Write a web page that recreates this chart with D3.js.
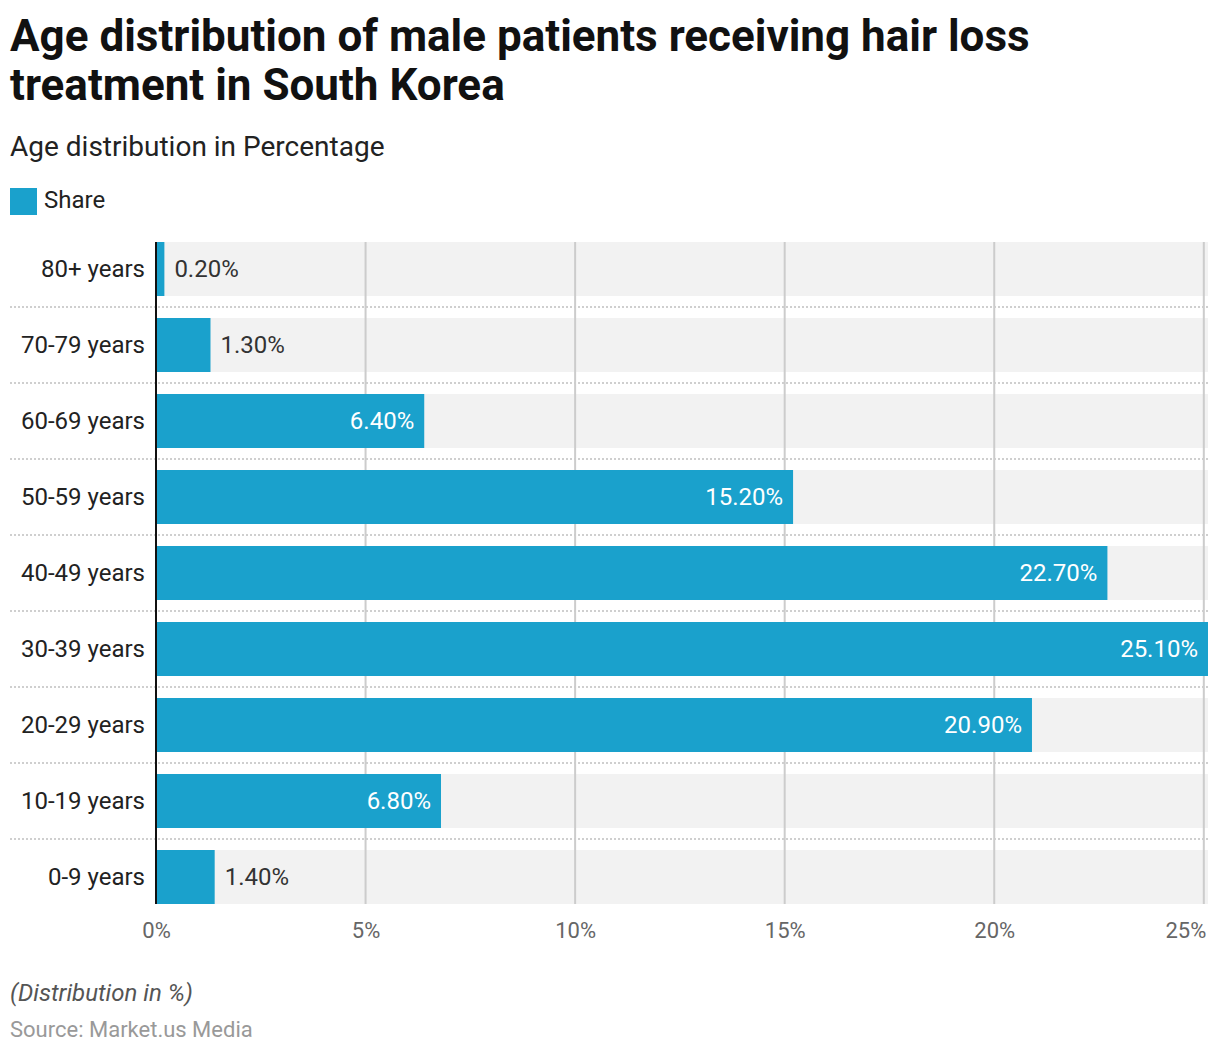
<!DOCTYPE html>
<html><head><meta charset="utf-8">
<script src="https://cdn.jsdelivr.net/npm/d3@7"></script>
<style>body{margin:0;background:#fff;font-family:Roboto,"Noto Sans",sans-serif;}</style>
</head><body><svg id="c" width="1220" height="1056"></svg>
<script>
const categories = ["80+ years","70-79 years","60-69 years","50-59 years","40-49 years","30-39 years","20-29 years","10-19 years","0-9 years"];
const shares = [0.2,1.3,6.4,15.2,22.7,25.1,20.9,6.8,1.4];
const tickValues = [0,5,10,15,20,25];
const tickLabels = ["0%","5%","10%","15%","20%","25%"];
const seriesName = "Share";

(function(){
const svg = d3.select("#c");
const color = "#1aa1cc";
const x = d3.scaleLinear().domain([0,25.1]).range([156,1208]);
const y = d3.scaleBand().domain(categories).range([231,915]).paddingInner(22/76).paddingOuter(11/76);

svg.append("text").attr("x",10).attr("y",51).attr("font-size",44).attr("font-weight",700).attr("fill","#111").text("Age distribution of male patients receiving hair loss");
svg.append("text").attr("x",10).attr("y",100).attr("font-size",44).attr("font-weight",700).attr("fill","#111").text("treatment in South Korea");
svg.append("text").attr("x",10).attr("y",156).attr("font-size",28).attr("fill","#222").text("Age distribution in Percentage");
svg.append("rect").attr("x",10).attr("y",188).attr("width",27).attr("height",27).attr("fill",color);
svg.append("text").attr("x",44).attr("y",208).attr("font-size",24).attr("fill","#222").text(seriesName);

const yTop = y(categories[0]), yBottom = y(categories[categories.length-1]) + y.bandwidth();
svg.append("g").selectAll("rect").data(categories).join("rect")
  .attr("x",x(0)).attr("y",d=>y(d)).attr("width",x(25.1)-x(0)).attr("height",y.bandwidth()).attr("fill","#f2f2f2");
svg.append("g").selectAll("line").data(categories.slice(1)).join("line")
  .attr("x1",10).attr("x2",1208).attr("y1",d=>y(d)-11).attr("y2",d=>y(d)-11)
  .attr("stroke","#cfcfcf").attr("stroke-width",2).attr("stroke-dasharray","2,2");
svg.append("g").selectAll("line").data(tickValues.slice(1)).join("line")
  .attr("x1",d=>x(d)).attr("x2",d=>x(d)).attr("y1",yTop).attr("y2",yBottom)
  .attr("stroke","#cccccc").attr("stroke-width",2);
svg.append("g").selectAll("rect").data(shares).join("rect")
  .attr("x",x(0)).attr("y",(d,i)=>y(categories[i])).attr("width",d=>x(d)-x(0)).attr("height",y.bandwidth()).attr("fill",color);
svg.append("line").attr("x1",x(0)).attr("x2",x(0)).attr("y1",yTop).attr("y2",yBottom).attr("stroke","#111").attr("stroke-width",2);
svg.append("g").selectAll("text").data(shares).join("text")
  .attr("x",d=> d>3 ? x(d)-10 : x(d)+10)
  .attr("y",(d,i)=>y(categories[i])+y.bandwidth()/2+8)
  .attr("text-anchor",d=> d>3 ? "end":"start")
  .attr("font-size",24).attr("fill",d=> d>3 ? "#fff" : "#333")
  .text(d=>d.toFixed(2)+"%");
svg.append("g").selectAll("text").data(categories).join("text")
  .attr("x",145).attr("y",d=>y(d)+y.bandwidth()/2+8).attr("text-anchor","end")
  .attr("font-size",24).attr("fill","#222").text(d=>d);
const ax = svg.append("g").attr("transform",`translate(0,${yBottom})`)
  .call(d3.axisBottom(x).tickValues(tickValues).tickFormat((d,i)=>tickLabels[i]).tickSize(0).tickPadding(18));
ax.select(".domain").remove();
ax.selectAll("text").attr("font-size",22).attr("fill","#666").attr("font-family","Roboto,sans-serif");
ax.selectAll(".tick").filter((d,i)=>i===tickValues.length-1).select("text").attr("text-anchor","end").attr("dx",2);

svg.append("text").attr("x",10).attr("y",1001).attr("font-size",24).attr("font-style","italic").attr("fill","#555").text("(Distribution in %)");
svg.append("text").attr("x",10).attr("y",1037).attr("font-size",22).attr("fill","#999").text("Source: Market.us Media");
})();
</script></body></html>
